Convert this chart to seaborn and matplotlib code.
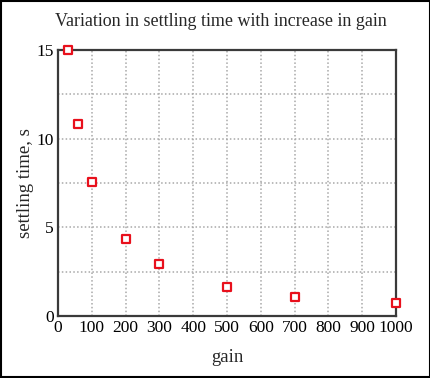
import matplotlib
matplotlib.use("Agg")
import matplotlib.pyplot as plt
import seaborn as sns
import pandas as pd
from matplotlib.patches import Rectangle

# data
gain = [30, 60, 100, 200, 300, 500, 700, 1000]
settling_time = [15.0, 10.85, 7.55, 4.35, 2.95, 1.65, 1.07, 0.75]

x_ticks = list(range(0, 1001, 100))
y_ticks = [0, 5, 10, 15]

df = pd.DataFrame({"gain": gain, "settling time, s": settling_time})

sns.set_theme(style="white")
plt.rcParams['font.family'] = ['Liberation Serif', 'DejaVu Serif']

fig = plt.figure(figsize=(4.31, 3.78), dpi=100)
ax = fig.add_axes([0.1346, 0.164, 0.784, 0.704])

sns.scatterplot(data=df, x="gain", y="settling time, s", ax=ax,
                marker="s", s=34, facecolor="white", edgecolor="#e8101c",
                linewidth=1.6, zorder=5, clip_on=False)

ax.set_xlim(0, 1000)
ax.set_ylim(0, 15)
ax.set_xticks(x_ticks)
ax.set_yticks(y_ticks)
ax.set_xticks(range(0, 1001, 100), minor=True)
ax.set_yticks([2.5, 7.5, 12.5], minor=True)
ax.grid(True, which="both", linestyle=(0, (1, 1.5)), color="#a8a8a8", linewidth=1.1)
ax.tick_params(axis="both", which="major", direction="in", length=5, width=1.2,
               color="black", labelsize=12.5, labelcolor="black", pad=3)
ax.tick_params(axis="both", which="minor", length=0)
for sp in ax.spines.values():
    sp.set_color("#3a3a3a")
    sp.set_linewidth(1.6)

ax.set_title("Variation in settling time with increase in gain", fontsize=13, pad=17, x=0.483)
ax.set_xlabel("gain", fontsize=13.5, labelpad=9)
ax.set_ylabel("settling time, s", fontsize=13.5, labelpad=2)

# figure border
fig.patches.append(Rectangle((0.003, 0.003), 0.994, 0.994, transform=fig.transFigure,
                             fill=False, edgecolor="black", linewidth=1.5))

plt.savefig("out.png", dpi=100)
plt.close()
